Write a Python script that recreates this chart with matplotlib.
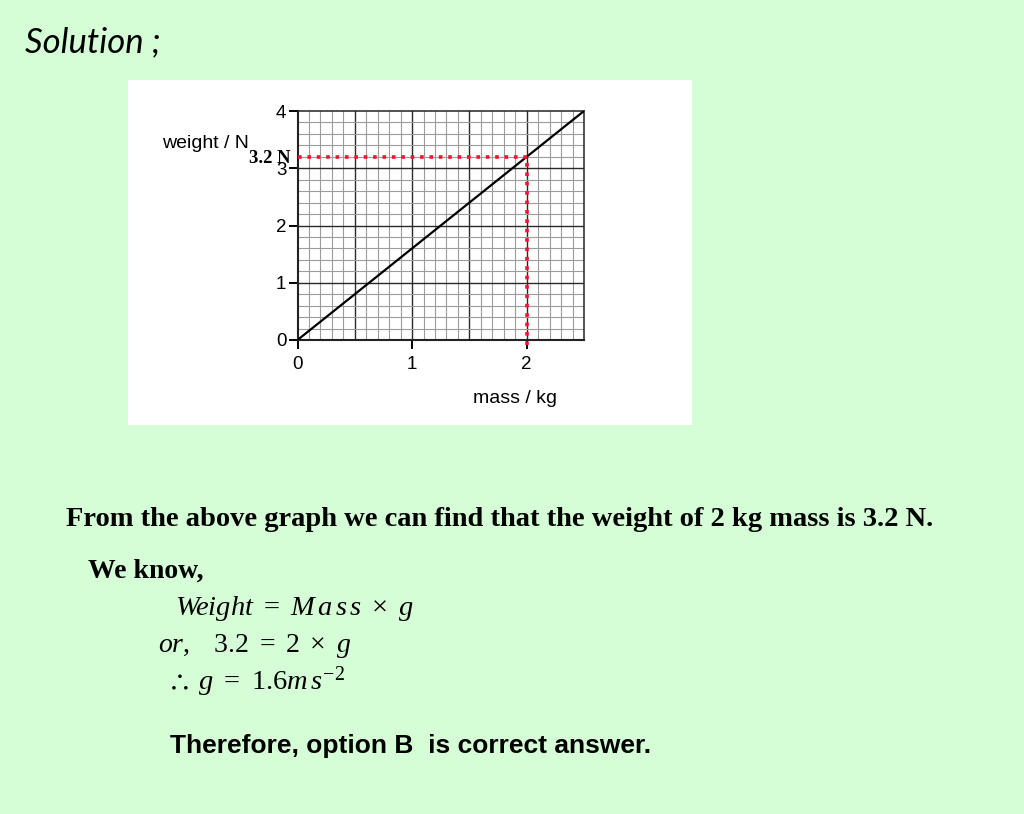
import numpy as np
import matplotlib
matplotlib.use("Agg")
import matplotlib.pyplot as plt
from matplotlib import font_manager as fm
from matplotlib.patches import Rectangle

# data
mass = [0.0, 2.5]
weight = [0.0, 4.0]
read_mass = 2.0
read_weight = 3.2
x_ticks = [0, 1, 2]
y_ticks = [0, 1, 2, 3, 4]
x_max = 2.5
y_max = 4.0

W, H = 1024, 814
BG = "#d5fdd6"

plt.rcParams["mathtext.fontset"] = "custom"
plt.rcParams["mathtext.rm"] = "Liberation Serif"
plt.rcParams["mathtext.it"] = "Liberation Serif:italic"
plt.rcParams["mathtext.bf"] = "Liberation Serif:bold"

WEIGHTS = {"normal": 400, "regular": 400, "book": 400, "bold": 700}


def font(name, weight="normal", style="normal", size=12):
    """Pick the exact font file (regular/bold, never narrow or light)."""
    want = 700 if weight == "bold" else 400
    for f in fm.fontManager.ttflist:
        if f.name != name or f.style != style or "Narrow" in f.fname:
            continue
        w = f.weight if isinstance(f.weight, int) else WEIGHTS.get(f.weight, -1)
        if w == want:
            return fm.FontProperties(fname=f.fname, size=size)
    return fm.FontProperties(family=name, weight=weight, style=style, size=size)


def fx(px):
    return px / W


def fy(py):
    return 1 - py / H


fig = plt.figure(figsize=(W / 100, H / 100), dpi=100, facecolor=BG)

# white card behind the graph
fig.patches.append(Rectangle((fx(128), fy(425)), fx(692) - fx(128), fy(80) - fy(425),
                             transform=fig.transFigure, facecolor="white",
                             edgecolor="none", zorder=-5))

ax = fig.add_axes([fx(297.5), fy(340), fx(584) - fx(297.5), fy(111) - fy(340)])
ax.set_zorder(2)
ax.set_facecolor("white")
ax.set_xlim(0, x_max)
ax.set_ylim(0, y_max)

# graph paper
for v in np.arange(0.1, x_max, 0.1):
    major = abs(v / 0.5 - round(v / 0.5)) < 1e-6
    ax.axvline(v, color="#2a2a2a" if major else "#9c9c9c",
               lw=1.0 if major else 0.8, zorder=1)
for v in np.arange(0.2, y_max, 0.2):
    major = abs(v - round(v)) < 1e-6
    ax.axhline(v, color="#2a2a2a" if major else "#9c9c9c",
               lw=1.0 if major else 0.8, zorder=1)

ax.plot(mass, weight, color="black", lw=1.6, zorder=3)

red_style = dict(color="#f5142d", lw=2.6, linestyle=(0, (1, 1.6)), zorder=4,
                 clip_on=False, dash_capstyle="butt")
ax.plot([0, read_mass], [read_weight, read_weight], **red_style)
ax.plot([read_mass, read_mass], [-0.09, read_weight], **red_style)

for s in ax.spines.values():
    s.set_color("#222222")
    s.set_linewidth(1.1)
ax.spines["left"].set_linewidth(1.5)
ax.spines["bottom"].set_linewidth(1.5)

ax.set_xticks(x_ticks)
ax.set_yticks(y_ticks)
ax.tick_params(direction="out", length=6.5, width=1.4, colors="black")
ax.tick_params(axis="x", pad=5)
ax.tick_params(axis="y", pad=1.5)
tick_font = font("Liberation Sans", size=13.5)
for lab in ax.get_xticklabels() + ax.get_yticklabels():
    lab.set_fontproperties(tick_font)

fig.text(fx(162), fy(148), "weight / N", fontproperties=font("Liberation Sans", size=14),
         va="baseline", ha="left")
fig.text(fx(291), fy(163), "3.2 N", fontproperties=font("Liberation Serif", "bold", size=13.5),
         va="baseline", ha="right", zorder=5)
fig.text(fx(473), fy(403), "mass / kg", fontproperties=font("Liberation Sans", size=14),
         va="baseline", ha="left")

# surrounding text
fig.text(fx(25), fy(52), "Solution ;", fontproperties=font("Lato", style="italic", size=25),
         va="baseline")
fig.text(fx(66), fy(526),
         "From the above graph we can find that the weight of 2 kg mass is 3.2 N.",
         fontproperties=font("Liberation Serif", "bold", size=20.5), va="baseline")
fig.text(fx(88), fy(578), "We know,",
         fontproperties=font("Liberation Serif", "bold", size=20), va="baseline")
fig.text(fx(175), fy(615), r"$W\!eight\ =\ M\,a\,s\,s\ \times\ g$", fontsize=20.5,
         va="baseline")
fig.text(fx(158), fy(652), r"$or,\ \ \ \mathrm{3.2}\ =\ \mathrm{2}\ \times\ g$",
         fontsize=20, va="baseline")
fig.text(fx(166), fy(690), r"$\therefore\ g\ =\ \mathrm{1.6}m\,s^{-2}$",
         fontsize=20.5, va="baseline")
fig.text(fx(170), fy(753), "Therefore, option B  is correct answer.",
         fontproperties=font("Liberation Sans", "bold", size=19), va="baseline")

fig.savefig("out.png", dpi=100, facecolor=BG)
